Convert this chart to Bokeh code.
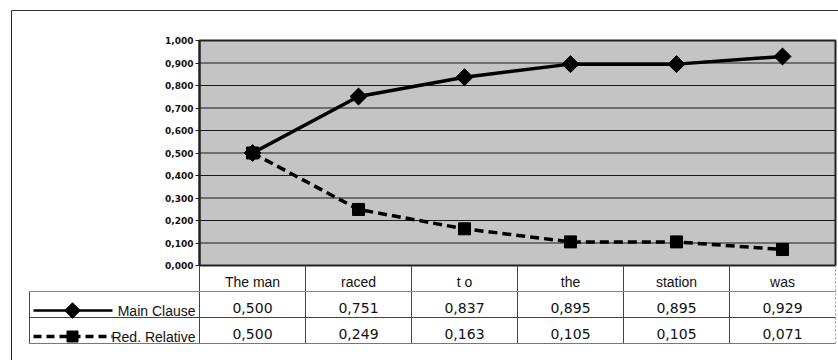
import numpy as np
from bokeh.plotting import figure
from bokeh.models import Range1d, FixedTicker, CustomJSTickFormatter, LinearAxis
from bokeh.embed import file_html
from bokeh.resources import INLINE
from bokeh.core.properties import value

# ---------------- data ----------------
categories = ["The man", "raced", "t o", "the", "station", "was"]
main_clause = [0.500, 0.751, 0.837, 0.895, 0.895, 0.929]
red_relative = [0.500, 0.249, 0.163, 0.105, 0.105, 0.071]
series_names = ["Main Clause", "Red. Relative"]
y_ticks = [0.0, 0.1, 0.2, 0.3, 0.4, 0.5, 0.6, 0.7, 0.8, 0.9, 1.0]

# ---------------- layout constants (pixels) ----------------
W, H = 838, 360
PLOT_L, PLOT_R = 199, 835
PLOT_T, PLOT_B = 40, 265
NCOL = len(categories)
COL_W = (PLOT_R - PLOT_L) / NCOL
PX_PER_UNIT = PLOT_B - PLOT_T
ROW_H = 26
OUTER_L, OUTER_T = 11, 10
LAB_L = 29
LEG_X0, LEG_X1, LEG_XM, LEG_TXT = 33, 112, 72, 195


def px_x(px):
    return (px - PLOT_L) / COL_W


def px_y(py):
    return (PLOT_B - py) / PX_PER_UNIT


def fmt(v):
    return f"{v:.3f}".replace(".", ",")


BG = "#c4c4c4"
INK = "#111111"
ROW = ROW_H / PX_PER_UNIT

p = figure(width=W, height=H,
           x_range=Range1d(px_x(0), px_x(W)),
           y_range=Range1d(px_y(H), px_y(0)),
           x_axis_location=None, y_axis_location=None,
           toolbar_location=None, output_backend="svg",
           min_border=0)
p.outline_line_color = None
p.background_fill_color = "white"
p.border_fill_color = "white"
p.xgrid.visible = False
p.ygrid.visible = False

centers = [i + 0.5 for i in range(NCOL)]
ymin, ymax = y_ticks[0], y_ticks[-1]

# plot area background
p.quad(left=[0], right=[NCOL], bottom=[ymin], top=[ymax], fill_color=BG, line_color=None)
# horizontal grid lines
p.segment(x0=[0] * len(y_ticks), y0=y_ticks, x1=[NCOL] * len(y_ticks), y1=y_ticks,
          line_color="#1a1a1a", line_width=1)
# plot area border
p.quad(left=[0], right=[NCOL], bottom=[ymin], top=[ymax], fill_color=None,
       line_color="#222222", line_width=2)

# y axis drawn at the plot-area edge
yax = LinearAxis(fixed_location=0, bounds=(ymin, ymax))
yax.ticker = FixedTicker(ticks=y_ticks)
yax.formatter = CustomJSTickFormatter(code="return tick.toFixed(3).replace('.', ',');")
yax.major_label_text_font = "DejaVu Sans"
yax.major_label_text_font_size = "9px"
yax.major_label_text_font_style = "bold"
yax.major_label_text_color = INK
yax.major_tick_out = 4
yax.major_tick_in = 0
yax.minor_tick_line_color = None
yax.major_tick_line_color = "#222222"
yax.axis_line_color = "#222222"
yax.axis_line_width = 2
yax.major_label_standoff = 2
p.add_layout(yax, "left")

# series
p.line(centers, red_relative, line_color="black", line_width=3.5, line_dash="9 5")
p.scatter(centers, red_relative, marker="square", size=12, color="black")
p.line(centers, main_clause, line_color="black", line_width=3.5)
p.scatter(centers, main_clause, marker="square", angle=np.pi / 4, size=12, color="black")

# ---------------- outer frame ----------------
p.segment(x0=[px_x(OUTER_L)], y0=[px_y(OUTER_T)], x1=[px_x(W + 5)], y1=[px_y(OUTER_T)],
          line_color="#333333", line_width=1)
p.segment(x0=[px_x(OUTER_L)], y0=[px_y(OUTER_T)], x1=[px_x(OUTER_L)], y1=[px_y(H + 5)],
          line_color="#222222", line_width=1)

# ---------------- data table ----------------
nrows = len(series_names) + 1
xs = list(range(NCOL + 1))
y_rows = [ymin - k * ROW for k in range(nrows + 1)]  # row boundaries
tbl_bottom = y_rows[-1]
# vertical column lines
p.segment(x0=xs[:-1], y0=[ymin] * NCOL, x1=xs[:-1], y1=[tbl_bottom] * NCOL,
          line_color="#444444", line_width=1)
p.segment(x0=[xs[-1]], y0=[ymin], x1=[xs[-1]], y1=[tbl_bottom],
          line_color="#999999", line_width=1, line_dash="2 2")
# row label left edge
p.segment(x0=[px_x(LAB_L)], y0=[y_rows[1]], x1=[px_x(LAB_L)], y1=[tbl_bottom],
          line_color="#444444", line_width=1)
# horizontal lines
p.segment(x0=[px_x(LAB_L)], y0=[y_rows[1]], x1=[NCOL], y1=[y_rows[1]], line_color="#888888", line_width=1)
p.segment(x0=[px_x(LAB_L)], y0=[y_rows[2]], x1=[NCOL], y1=[y_rows[2]], line_color="#444444", line_width=1)
p.segment(x0=[px_x(LAB_L)], y0=[y_rows[3]], x1=[NCOL], y1=[y_rows[3]], line_color="#777777", line_width=1)

VOFF = 3.5 / PX_PER_UNIT
mid = [(y_rows[k] + y_rows[k + 1]) / 2 - VOFF for k in range(nrows)]
p.text(x=centers, y=[mid[0]] * NCOL, text=categories,
       text_align="center", text_baseline="middle",
       text_font=value("Liberation Sans"), text_font_size="14px", text_color=INK)
p.text(x=centers, y=[mid[1]] * NCOL, text=[fmt(v) for v in main_clause],
       text_align="center", text_baseline="middle",
       text_font=value("DejaVu Sans"), text_font_size="14px", text_color=INK)
p.text(x=centers, y=[mid[2]] * NCOL, text=[fmt(v) for v in red_relative],
       text_align="center", text_baseline="middle",
       text_font=value("DejaVu Sans"), text_font_size="14px", text_color=INK)

# legend keys in the row headers
LOFF = 6 / PX_PER_UNIT
ly1 = (y_rows[1] + y_rows[2]) / 2 - LOFF
ly2 = (y_rows[2] + y_rows[3]) / 2 - LOFF
p.line(x=[px_x(LEG_X0), px_x(LEG_X1)], y=[ly1, ly1], line_color="black", line_width=2.5)
p.scatter(x=[px_x(LEG_XM)], y=[ly1], marker="square", angle=np.pi / 4, size=11, color="black")
p.line(x=[px_x(LEG_X0), px_x(LEG_X1)], y=[ly2, ly2], line_color="black", line_width=3.5,
       line_dash="8 5")
p.scatter(x=[px_x(LEG_XM)], y=[ly2], marker="square", size=11, color="black")
p.text(x=[px_x(LEG_TXT)] * 2, y=[ly1, ly2], text=series_names,
       text_align="right", text_baseline="middle",
       text_font=value("Liberation Sans"), text_font_size="14px", text_color=INK)

open("out.html", "w").write(file_html(p, INLINE))
